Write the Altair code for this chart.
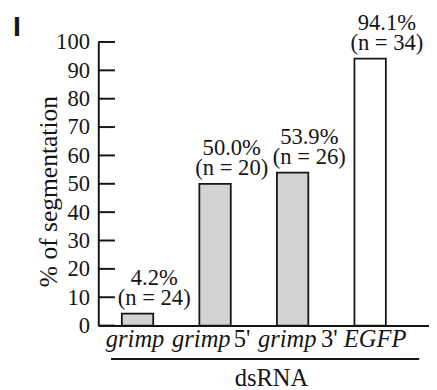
import altair as alt
import pandas as pd

# ---- data ----
categories = ["grimp", "grimp 5'", "grimp 3'", "EGFP"]
values = [4.2, 50.0, 53.9, 94.1]
n_values = [24, 20, 26, 34]
fills = ["#d3d3d3", "#d3d3d3", "#d3d3d3", "#ffffff"]
label_main = ["grimp", "grimp", "grimp", "EGFP"]
label_suffix = ["", "5'", "3'", ""]
y_ticks = list(range(0, 101, 10))
panel_label = ["I"]

df = pd.DataFrame({
    "cat": categories,
    "value": values,
    "n": n_values,
    "fill": fills,
    "main": label_main,
    "suffix": label_suffix,
})
df["pct"] = df["value"].map(lambda v: f"{v:.1f}%")
df["nlab"] = df["n"].map(lambda n: f"(n = {n})")
ticks_df = pd.DataFrame({"t": y_ticks})
panel_df = pd.DataFrame({"lab": panel_label})

SERIF = "Liberation Serif"
INK = "#151515"
W, H = 337, 289

xscale = alt.Scale(domain=categories, paddingInner=0.595, paddingOuter=0.43, align=0.353)
yscale = alt.Scale(domain=[0, 100], nice=False)

x_axis = alt.Axis(title="dsRNA", titleX=176, titleY=61)
x_main = alt.X("cat:N", scale=xscale, sort=categories, title="dsRNA", axis=x_axis)
y_main = alt.Y("value:Q", scale=yscale, title="% of segmentation")
x_plain = alt.X("cat:N", scale=xscale, sort=categories, title="dsRNA", axis=x_axis)
y_plain = alt.Y("value:Q", scale=yscale, title="% of segmentation")

base = alt.Chart(df)

bars = base.mark_bar(stroke=INK, strokeWidth=1.8).encode(
    x=x_main, y=y_main, fill=alt.Fill("fill:N", scale=None)
)

nlabels = base.mark_text(font=SERIF, fontSize=23, color=INK, baseline="alphabetic",
                         dx=17, dy=-9).encode(x=x_plain, y=y_plain, text="nlab:N")
plabels = base.mark_text(font=SERIF, fontSize=23, color=INK, baseline="alphabetic",
                         dx=17, dy=-29).encode(x=x_plain, y=y_plain, text="pct:N")

tick_rules = alt.Chart(ticks_df).mark_rule(color=INK, strokeWidth=2).encode(
    y=alt.Y("t:Q", scale=yscale, title="% of segmentation"), x=alt.value(0), x2=alt.value(17))

# category labels: italic gene names with roman suffixes
main_dx = [-2.5, -14, -5.5, 5]
suffix_dx = [0, 19, 29, 0]
cat_layers = []
for i, c in enumerate(categories):
    cat_layers.append(
        base.transform_filter(alt.datum.cat == c).mark_text(
            font=SERIF, fontSize=25, fontStyle="italic", color=INK,
            baseline="alphabetic", dx=main_dx[i], dy=22).encode(
            x=x_plain, y=alt.datum(0), text="main:N"))
    if label_suffix[i]:
        cat_layers.append(
            base.transform_filter(alt.datum.cat == c).mark_text(
                font=SERIF, fontSize=25, color=INK, align="left",
                baseline="alphabetic", dx=suffix_dx[i], dy=22).encode(
                x=x_plain, y=alt.datum(0), text="suffix:N"))

underline = alt.Chart(ticks_df).transform_filter(alt.datum.t == 0).mark_rule(
    color=INK, strokeWidth=2, yOffset=34).encode(
    y=alt.Y("t:Q", scale=yscale, title="% of segmentation"), x=alt.value(13), x2=alt.value(327))

panel = alt.Chart(panel_df).mark_text(
    font="Liberation Sans", fontSize=29, fontWeight="bold", color=INK,
    align="left", baseline="alphabetic").encode(
    x=alt.value(-87), y=alt.value(-6), text="lab:N")

chart = alt.layer(bars, tick_rules, nlabels, plabels, underline, *cat_layers, panel).properties(
    width=W, height=H,
    autosize=alt.AutoSizeParams(type="none"),
    padding={"left": 92, "top": 31, "right": 0, "bottom": 62},
).configure_view(stroke=None).configure_axisY(
    tickCount=10, ticks=False, grid=False, domainColor=INK, domainWidth=2,
    labelOverlap=False, labelBound=False, labelFlush=False,
    labelFont=SERIF, labelFontSize=23, labelColor=INK, labelPadding=9,
    titleFont=SERIF, titleFontSize=26, titleFontWeight="normal", titleColor=INK,
    titleAngle=270, titleX=-43, titleY=152, titleBaseline="alphabetic", titleAlign="center",
).configure_axisX(
    labels=False, ticks=False, grid=False, domain=True, domainColor=INK, domainWidth=2,
    titleFont=SERIF, titleFontSize=25, titleFontWeight="normal", titleColor=INK,
    titleBaseline="alphabetic", titleAlign="center",
)

chart.save("out.html", embed_options={"renderer": "svg", "actions": False})
